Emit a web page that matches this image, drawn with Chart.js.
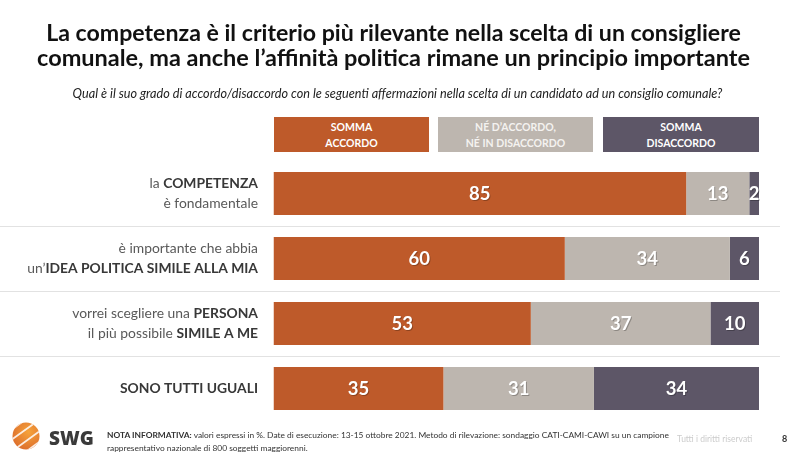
<!DOCTYPE html>
<html><head><meta charset="utf-8">
<script src="https://cdn.jsdelivr.net/npm/chart.js@4/dist/chart.umd.min.js"></script>
<style>
html,body{margin:0;padding:0;background:#fff;width:800px;height:458px;overflow:hidden;font-family:Lato,"Open Sans",sans-serif;}
#wrap{position:relative;width:800px;height:458px;}
#c{position:absolute;left:0;top:0;}
.t{position:absolute;white-space:nowrap;color:#111;font-weight:bold;font-size:23.8px;line-height:28px;}
.sub{position:absolute;white-space:nowrap;font-style:italic;font-size:12.5px;color:#222;top:85px;line-height:16px;}
.lg{position:absolute;top:117px;height:35px;color:#fff;font-size:10.5px;text-align:center;line-height:16px;display:flex;align-items:center;justify-content:center;font-weight:bold;}
.foot{position:absolute;font-size:8.5px;color:#333;left:107px;top:429px;line-height:12.5px;white-space:nowrap;}
</style></head><body>
<div id="wrap">
<canvas id="c" width="800" height="458"></canvas>
<div class="t" id="t1" data-l="46" data-w="695" style="top:18px">La competenza è il criterio più rilevante nella scelta di un consigliere</div>
<div class="t" id="t2" data-l="37" data-w="713" style="top:43px">comunale, ma anche l’affinità politica rimane un principio importante</div>
<div class="sub" id="st" data-l="72" data-w="651">Qual è il suo grado di accordo/disaccordo con le seguenti affermazioni nella scelta di un candidato ad un consiglio comunale?</div>
<div class="lg" style="left:274px;width:155px;background:#BE5A2A">SOMMA<br>ACCORDO</div>
<div class="lg" style="left:438px;width:155px;background:#BDB6AF;color:#f4f2f0">NÉ D’ACCORDO,<br>NÉ IN DISACCORDO</div>
<div class="lg" style="left:603px;width:156px;background:#5D5667">SOMMA<br>DISACCORDO</div>
<svg style="position:absolute;left:11px;top:421px" width="31" height="30" viewBox="0 0 31 30">
<defs><clipPath id="cl"><circle cx="15" cy="15" r="13.5"/></clipPath>
<radialGradient id="gr" cx="0.6" cy="0.35" r="0.8"><stop offset="0" stop-color="#F6A33A"/><stop offset="1" stop-color="#D9662A"/></radialGradient></defs>
<circle cx="15" cy="15" r="13.5" fill="url(#gr)"/>
<g clip-path="url(#cl)" stroke="#fff" stroke-width="1.8" opacity="0.85">
<line x1="-4" y1="12" x2="18" y2="-4"/><line x1="-4" y1="22" x2="28" y2="-1"/><line x1="0" y1="31" x2="33" y2="7"/><line x1="9" y1="35" x2="35" y2="16"/>
</g></svg>
<div style="position:absolute;left:49px;top:425px;font-size:19px;font-weight:900;color:#3a3a3a;font-family:'Open Sans',sans-serif;">SWG</div>
<div class="foot" id="ft"><b>NOTA INFORMATIVA:</b> valori espressi in %. Date di esecuzione: 13-15 ottobre 2021. Metodo di rilevazione: sondaggio CATI-CAMI-CAWI su un campione<br>rappresentativo nazionale di 800 soggetti maggiorenni.</div>
<div style="position:absolute;left:677px;top:434px;font-size:8.5px;color:#ccc;white-space:nowrap;">Tutti i diritti riservati</div>
<div style="position:absolute;left:782px;top:433px;font-size:9px;font-weight:bold;color:#333;">8</div>
</div>
<script>
const categories = ["competenza", "idea politica", "persona simile", "sono tutti uguali"];
const labelLines = [
  [[["la ", false], ["COMPETENZA", true]], [["è fondamentale", false]]],
  [[["è importante che abbia", false]], [["un’", false], ["IDEA POLITICA SIMILE ALLA MIA", true]]],
  [[["vorrei scegliere una ", false], ["PERSONA", true]], [["il più possibile ", false], ["SIMILE A ME", true]]],
  [[["SONO TUTTI UGUALI", true]]]
];
const seriesNames = ["Somma accordo", "Né d'accordo, né in disaccordo", "Somma disaccordo"];
const accordo = [85, 60, 53, 35];
const neutro = [13, 34, 37, 31];
const disaccordo = [2, 6, 10, 34];
const colors = ["#BE5A2A", "#BDB6AF", "#5D5667"];

// fit header texts to target widths
['t1','t2','st'].forEach(id => {
  const el = document.getElementById(id);
  const fs = parseFloat(getComputedStyle(el).fontSize);
  const w = el.getBoundingClientRect().width;
  const target = parseFloat(el.dataset.w);
  el.style.fontSize = (fs * target / w) + 'px';
  const w2 = el.getBoundingClientRect().width;
  el.style.left = (parseFloat(el.dataset.l) + (target - w2) / 2) + 'px';
});
(function(){
  const el = document.getElementById('ft');
  const fs = parseFloat(getComputedStyle(el).fontSize);
  const w = el.getBoundingClientRect().width;
  el.style.fontSize = (fs * 563 / w) + 'px';
})();

// row-label font size fitted so the longest line is ~231px
const mctx = document.createElement('canvas').getContext('2d');
function lineWidth(parts, size) {
  let s = 0;
  parts.forEach(([txt, bold]) => { mctx.font = (bold ? 'bold ' : '') + size + 'px Lato, "Open Sans", sans-serif'; s += mctx.measureText(txt).width; });
  return s;
}
const labelSize = 13.6 * 231 / lineWidth(labelLines[1][1], 13.6);

const rowLabels = {
  id: 'rowLabels',
  beforeDatasetsDraw(chart) {
    const ctx = chart.ctx, y = chart.scales.y;
    ctx.save();
    ctx.strokeStyle = '#e2e2e2'; ctx.lineWidth = 1;
    for (let i = 0; i < categories.length - 1; i++) {
      const yy = Math.round((y.getPixelForValue(i) + y.getPixelForValue(i + 1)) / 2) + 0.5;
      ctx.beginPath(); ctx.moveTo(0, yy); ctx.lineTo(780, yy); ctx.stroke();
    }
    ctx.textBaseline = 'middle';
    labelLines.forEach((lines, i) => {
      const cy = y.getPixelForValue(i);
      const n = lines.length;
      lines.forEach((parts, j) => {
        const ly = cy + (j - (n - 1) / 2) * 19.5;
        let x = 258;
        for (let k = parts.length - 1; k >= 0; k--) {
          const [txt, bold] = parts[k];
          ctx.font = (bold ? 'bold ' : '') + labelSize + 'px Lato, "Open Sans", sans-serif';
          ctx.fillStyle = bold ? '#383838' : '#595959';
          const w = ctx.measureText(txt).width;
          x -= w;
          ctx.fillText(txt, x, ly);
        }
      });
    });
    ctx.restore();
  },
  afterDatasetsDraw(chart) {
    const ctx = chart.ctx;
    ctx.save();
    ctx.font = 'bold 18.5px Lato, "Open Sans", sans-serif';
    ctx.textAlign = 'center'; ctx.textBaseline = 'middle';
    chart.data.datasets.forEach((ds, di) => {
      chart.getDatasetMeta(di).data.forEach((el, i) => {
        const x = (el.x + el.base) / 2;
        ctx.fillStyle = 'rgba(0,0,0,0.25)';
        ctx.fillText(String(ds.data[i]), x + 1, el.y + 2);
        ctx.fillStyle = '#fff';
        ctx.fillText(String(ds.data[i]), x, el.y + 1);
      });
    });
    ctx.restore();
  }
};

new Chart(document.getElementById('c'), {
  type: 'bar',
  data: {
    labels: categories,
    datasets: [
      { label: seriesNames[0], data: accordo, backgroundColor: colors[0] },
      { label: seriesNames[1], data: neutro, backgroundColor: colors[1] },
      { label: seriesNames[2], data: disaccordo, backgroundColor: colors[2] }
    ]
  },
  options: {
    indexAxis: 'y',
    responsive: false,
    animation: false,
    devicePixelRatio: 1,
    layout: { padding: { left: 273.5, right: 41, top: 161, bottom: 37 } },
    datasets: { bar: { categoryPercentage: 1, barPercentage: 0.66, borderWidth: 0 } },
    scales: {
      x: { stacked: true, min: 0, max: 100, display: false },
      y: { stacked: true, display: false }
    },
    plugins: { legend: { display: false }, tooltip: { enabled: false } }
  },
  plugins: [rowLabels]
});
</script>
</body></html>
